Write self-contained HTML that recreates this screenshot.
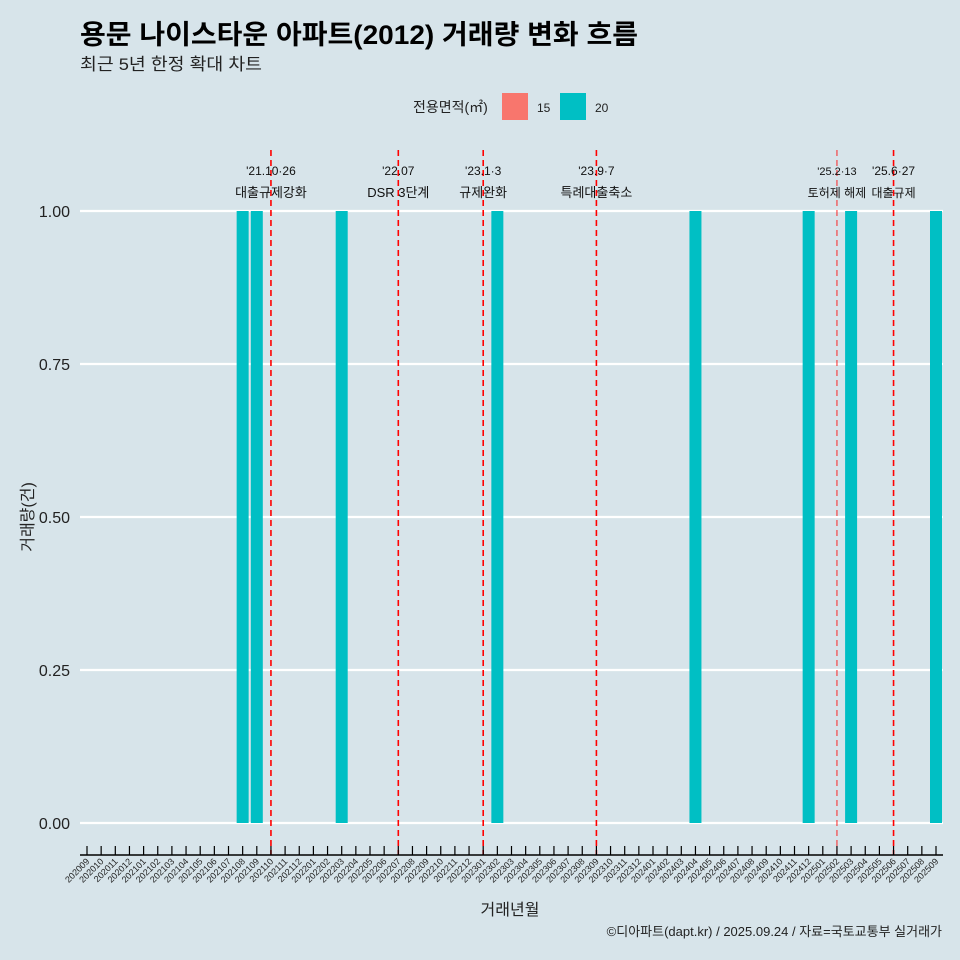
<!DOCTYPE html>
<html><head><meta charset="utf-8">
<style>
body{margin:0;background:#d7e4ea;}
svg{display:block;font-family:"Liberation Sans","Noto Sans CJK KR",sans-serif;}
</style></head>
<body>
<svg id="chart" width="960" height="960" viewBox="0 0 960 960">
<rect width="960" height="960" fill="#d7e4ea"/>
<text x="80" y="44" font-size="27" font-weight="bold" fill="#000" textLength="558" lengthAdjust="spacingAndGlyphs">용문 나이스타운 아파트(2012) 거래량 변화 흐름</text>
<text x="80" y="70" font-size="17" fill="#222" textLength="182" lengthAdjust="spacingAndGlyphs">최근 5년 한정 확대 차트</text>
<g>
<text x="413" y="112" font-size="14" fill="#222">전용면적(㎡)</text>
<rect x="502" y="93" width="26" height="27" fill="#f8766d"/>
<text x="537" y="112" font-size="12" fill="#222">15</text>
<rect x="560" y="93" width="26" height="27" fill="#00bfc4"/>
<text x="595" y="112" font-size="12" fill="#222">20</text>
</g>
<g id="grid"></g><g id="bars"></g><g id="vlines"></g><g id="axes"></g>
<text x="510" y="915" font-size="16" text-anchor="middle" fill="#222">거래년월</text>
<text transform="translate(33,517) rotate(-90)" font-size="16" text-anchor="middle" fill="#222">거래량(건)</text>
<text x="942" y="936" font-size="13" text-anchor="end" fill="#222">©디아파트(dapt.kr) / 2025.09.24 / 자료=국토교통부 실거래가</text>
</svg>
<script>
const months=[];
for(let y=2020,m=9;!(y===2025&&m===10);){months.push(''+y+(m<10?'0':'')+m);m++;if(m>12){m=1;y++;}}
const barMonths=['202108','202109','202203','202302','202404','202412','202503','202509'];
const barValues=[1,1,1,1,1,1,1,1];
const yTicks=[0,0.25,0.5,0.75,1];
const yTickLabels=['0.00','0.25','0.50','0.75','1.00'];
const eventMonths=['202110','202207','202301','202309','202502','202506'];
const eventDates=["'21.10·26","'22.07","'23.1·3","'23.9·7","'25.2·13","'25.6·27"];
const eventLabels=['대출규제강화','DSR 3단계','규제완화','특례대출축소','토허제 해제','대출규제'];

const NS='http://www.w3.org/2000/svg';
function xS(m){return 87+months.indexOf(m)*14.15;}
function yS(v){return 823-v*612;}
function mk(tag,attrs,parent,txt){const e=document.createElementNS(NS,tag);for(const k in attrs)e.setAttribute(k,attrs[k]);if(txt!==undefined)e.textContent=txt;document.getElementById(parent).appendChild(e);return e;}

yTicks.forEach((t,i)=>{
  const l=mk('line',{x1:80,x2:943,y1:yS(t),y2:yS(t),stroke:'#fff','stroke-width':2.2},'grid');
  
  
  const tx=mk('text',{x:70,y:yS(t)+6,'font-size':16,'text-anchor':'end',fill:'#222'},'grid',yTickLabels[i]);
  
  
});
barMonths.forEach((m,i)=>{
  const x=xS(m);
  const r=mk('rect',{x:x-6,y:yS(barValues[i]),width:12,height:yS(0)-yS(barValues[i]),fill:'#00bfc4'},'bars');
  
  
});
eventMonths.forEach((m,i)=>{
  const x=xS(m);
  const small=m==='202502';
  const l=mk('line',{x1:x,x2:x,y1:150,y2:855,stroke:'#ff0000','stroke-width':small?1.2:1.6,'stroke-dasharray':'6,4',opacity:small?0.7:1},'vlines');
  
  
  let tx=x;
  const late=(m==='202502'||m==='202506');
  const fs=small?11:12;
  const d=mk('text',{x:tx,y:175,'font-size':fs,'text-anchor':'middle',fill:'#111'},'vlines',eventDates[i]);
  
  
  const lb=mk('text',{x:tx,y:197,'font-size':late?12:13,'text-anchor':'middle',fill:'#111'},'vlines',eventLabels[i]);
  
  
});
const ax=mk('line',{x1:80,x2:943,y1:855,y2:855,stroke:'#000','stroke-width':1.5},'axes');


months.forEach(m=>{
  const x=xS(m);
  const t=mk('line',{x1:x,x2:x,y1:846,y2:855,stroke:'#000','stroke-width':1.2},'axes');
  
  
  const lb=mk('text',{transform:`translate(${x+3},862) rotate(-45)`,'font-size':9,'text-anchor':'end',fill:'#222'},'axes',m);
  
  
});
</script>
</body></html>
